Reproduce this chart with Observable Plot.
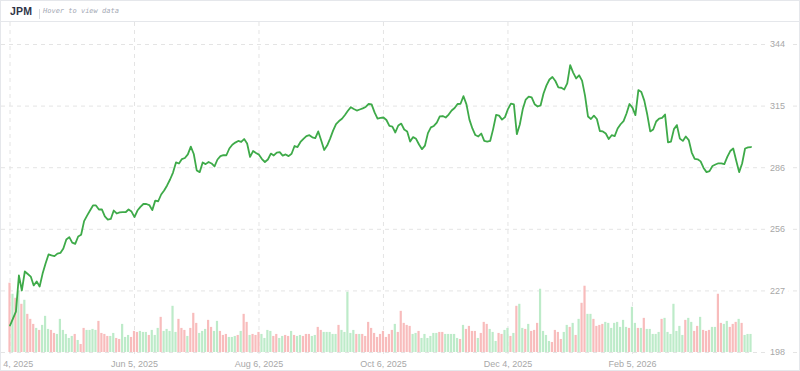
<!DOCTYPE html>
<html><head><meta charset="utf-8">
<script src="https://cdn.jsdelivr.net/npm/d3@7"></script>
<script src="https://cdn.jsdelivr.net/npm/@observablehq/plot@0.6"></script>
<style>
html,body{margin:0;padding:0;background:#fff;}
#card{position:relative;width:800px;height:371px;box-sizing:border-box;border:1px solid #e5e7eb;overflow:hidden;font-family:"Liberation Sans",Arial,sans-serif;}
#hdr{position:relative;height:20px;border-bottom:1px solid #e5e7eb;}
#sym{position:absolute;left:9px;top:4px;font-size:10.5px;font-weight:700;color:#2f3547;letter-spacing:0.2px;}
#sep{position:absolute;left:38px;top:8px;width:1px;height:10px;background:#d9dce1;}
#hint{position:absolute;left:42px;top:6px;font-family:"DejaVu Sans Mono",monospace;font-style:italic;font-size:7px;color:#a3a8b4;}
#chart svg{display:block;}
</style></head>
<body>
<div id="card">
  <div id="hdr"><span id="sym">JPM</span><span id="sep"></span><span id="hint">Hover to view data</span></div>
  <div id="chart"></div>
</div>
<script>
// Closing prices, one per trading day (index 0 = Apr 4, 2025)
const price = [
210.8,214.1,217.4,234.5,227.4,236.4,235.2,234.0,229.8,231.7,
229.3,235.4,240.2,244.5,244.0,243.7,244.9,245.2,247.3,251.6,
252.7,250.1,249.5,253.0,253.8,260.3,262.9,265.3,267.7,267.7,
265.8,265.8,262.5,261.0,261.3,265.3,263.9,264.4,264.5,264.5,
265.8,264.8,262.2,265.3,267.0,268.4,268.4,267.9,265.5,270.0,
269.7,272.9,274.8,277.2,280.0,283.3,288.1,287.6,289.7,290.2,
291.9,295.6,292.1,284.3,283.5,288.1,287.3,288.3,287.6,286.2,
289.5,291.1,291.6,291.5,294.7,296.5,297.5,298.3,297.8,299.2,
297.1,290.7,293.5,292.6,291.8,289.7,288.3,289.5,292.3,291.4,
292.8,293.0,291.3,291.9,291.1,292.2,295.9,295.4,297.8,299.3,
300.6,301.0,300.0,299.6,302.8,298.5,294.0,296.1,299.4,303.2,
306.3,307.7,308.8,310.6,312.6,314.3,313.4,312.7,313.2,313.7,
314.4,315.8,315.6,311.8,308.9,309.2,309.4,308.2,305.4,305.1,
302.3,305.6,306.5,303.7,302.8,298.0,300.1,299.3,296.6,294.4,
296.1,302.0,304.7,305.4,307.0,309.9,310.1,309.4,310.8,312.7,
313.9,315.8,315.9,319.5,315.6,308.4,304.2,301.1,300.4,301.8,
298.3,298.0,298.3,303.9,310.6,310.3,308.4,309.6,313.4,316.0,
315.6,301.5,306.1,313.4,317.9,319.3,318.9,315.7,314.6,315.1,
320.8,324.6,327.4,328.6,326.7,323.7,323.5,322.7,325.6,334.2,
330.7,327.9,329.4,326.9,319.8,309.9,308.7,310.3,308.7,303.0,
302.8,301.8,299.2,301.0,300.6,304.2,306.2,307.7,311.3,315.8,
314.1,310.5,322.4,321.5,317.4,310.8,302.8,303.7,307.5,308.9,
309.2,310.8,297.6,298.0,303.9,305.8,299.4,298.3,300.4,298.7,
292.8,289.8,289.6,288.6,285.5,283.5,284.0,286.4,287.1,287.7,
287.7,287.3,290.7,293.5,294.7,289.0,283.5,287.6,294.7,295.2,295.4
];
// Daily volume (hundred-thousand shares)
const volume = [
69,58,54,61,48,52,38,33,28,24,
22,27,36,23,22,19,18,33,22,18,
14,16,18,12,8,24,22,22,23,22,
31,19,18,16,16,19,14,13,28,15,
17,15,21,20,21,20,20,17,22,17,
24,35,21,23,21,46,20,33,24,22,
16,24,39,29,19,21,23,32,25,21,
31,21,17,18,15,15,16,17,21,38,
30,17,18,17,20,18,14,22,21,16,
18,14,16,17,16,21,17,16,17,16,
18,18,16,17,25,22,20,20,20,18,
18,27,22,20,60,19,22,18,18,18,
16,30,24,19,15,18,21,15,18,22,
28,20,41,29,27,26,18,19,21,14,
18,14,16,19,19,20,20,18,18,18,
18,14,13,27,23,26,21,21,14,19,
30,28,23,20,11,19,18,22,24,16,
19,46,48,24,23,28,21,22,29,63,
21,17,11,10,22,20,13,20,27,25,
29,17,33,49,66,38,38,33,26,27,
28,30,29,24,29,30,25,32,25,24,
45,29,24,24,34,23,23,18,18,20,
33,34,20,18,48,21,26,17,32,34,
30,21,26,35,22,21,22,25,25,58,
29,28,31,25,28,30,33,29,17,18,18
];
// Bar direction: u = up day, d = down day
const direction = [
"d","u","d","u","d","u","d","d","d","u",
"d","u","u","u","d","d","u","u","u","u",
"u","u","d","u","d","d","u","u","u","u",
"d","d","d","d","u","u","d","d","u","u",
"u","d","d","d","u","u","u","d","u","u",
"u","d","u","u","u","u","u","d","d","d",
"u","d","d","d","u","u","u","d","d","u",
"u","d","d","d","u","u","u","d","u","d",
"d","u","d","d","d","u","u","u","u","d",
"d","u","u","d","d","u","d","u","u","d",
"d","d","u","u","d","d","u","u","u","u",
"u","d","u","u","u","u","u","d","u","d",
"d","d","d","d","d","d","d","d","d","d",
"u","d","d","d","d","d","u","u","d","u",
"u","u","u","u","u","d","d","u","u","u",
"u","u","d","u","d","d","d","d","u","d",
"d","d","u","u","u","d","d","u","u","d",
"u","d","u","u","d","u","d","d","d","u",
"u","u","u","d","d","d","d","u","u","d",
"u","d","u","d","d","u","u","d","d","d",
"d","u","u","u","u","u","u","u","u","d",
"u","u","d","u","d","u","u","u","u","u",
"d","u","u","u","u","u","u","u","d","u",
"u","d","d","u","d","d","d","u","u","d",
"d","u","u","d","d","d","u","d","u","u","u"
];
const xTickIndex = [0, 42, 84, 126, 168, 210];
const xTickLabels = ["Apr 4, 2025", "Jun 5, 2025", "Aug 6, 2025", "Oct 6, 2025", "Dec 4, 2025", "Feb 5, 2026"];
const yTicks = [198, 227.2, 256.4, 285.6, 314.8, 344];
const yTickLabels = ["198", "227", "256", "286", "315", "344"];

const idx = d3.range(price.length);
const base = yTicks[0];
const volSpan = (yTicks[yTicks.length - 1] - yTicks[0]) * 0.225;
const vmax = d3.max(volume);
const up = idx.filter(i => direction[i] === "u");
const down = idx.filter(i => direction[i] === "d");
const half = 0.37;
const gridColor = "#e4e4e4";
const labelColor = "#a8a8a8";

const chart = Plot.plot({
  width: 798,
  height: 349,
  marginTop: 0,
  marginBottom: 13,
  marginLeft: 0,
  marginRight: 0,
  style: {fontFamily: "'Liberation Sans', Arial, sans-serif", background: "transparent", overflow: "hidden"},
  x: {domain: [-2.868, 266.36], axis: null},
  y: {domain: [195.16, 354.43], axis: null},
  marks: [
    Plot.ruleY(yTicks, {y: d => d, stroke: gridColor, strokeWidth: 1, strokeDasharray: "4,4"}),
    Plot.ruleX(xTickIndex, {x: d => d, stroke: gridColor, strokeWidth: 1, strokeDasharray: "4,4"}),
    Plot.rectY(up, {x1: i => i - half, x2: i => i + half, y1: base, y2: i => base + volume[i] / vmax * volSpan, fill: "#bdebc9"}),
    Plot.rectY(down, {x1: i => i - half, x2: i => i + half, y1: base, y2: i => base + volume[i] / vmax * volSpan, fill: "#f8bcbc"}),
    Plot.line(idx, {x: i => i, y: i => price[i], stroke: "#3eaa49", strokeWidth: 1.8, strokeLinejoin: "round"}),
    Plot.text(yTicks, {y: d => d, frameAnchor: "right", dx: -22, text: (d, i) => yTickLabels[i], fontSize: 9, fill: labelColor, stroke: "white", strokeWidth: 9, paintOrder: "stroke", textAnchor: "middle"}),
    Plot.text(xTickIndex, {x: d => d, frameAnchor: "bottom", dy: 8, text: (d, i) => xTickLabels[i], fontSize: 9, fill: labelColor, textAnchor: "middle"})
  ]
});
document.getElementById("chart").appendChild(chart);
</script>
</body></html>
